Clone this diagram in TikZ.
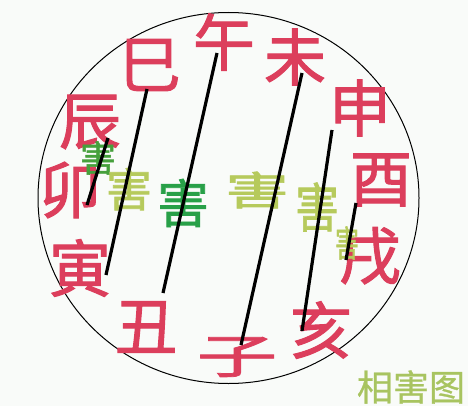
\documentclass[tikz,border=0pt]{standalone}
\usepackage{fontspec}
\newfontfamily\cjk{Noto Sans CJK SC}[FakeBold=1.6]
\newfontfamily\cjkt{Noto Sans CJK SC}[FakeBold=0.8]
\definecolor{zhired}{RGB}{220,62,92}
\definecolor{olive1}{RGB}{182,202,92}
\definecolor{green1}{RGB}{40,160,72}
\definecolor{green2}{RGB}{70,160,60}
\definecolor{titlegreen}{RGB}{168,196,96}
\definecolor{bg}{RGB}{249,251,249}
\begin{document}
\begin{tikzpicture}[x=1pt,y=-1pt,
  branch/.style={inner sep=0pt,text=zhired,font=\cjk\fontsize{62}{62}\selectfont},
  harm/.style={inner sep=0pt,font=\cjk\fontsize{#1}{#1}\selectfont},
  link/.style={line width=3.2pt,black}]
\useasboundingbox (0,0) rectangle (468,406);
\fill[bg] (0,0) rectangle (468,406);
\draw[line width=1pt] (228.5,198) ellipse [x radius=190.5, y radius=185.5];
% branches
\node[branch] (si)   at (150,65)  {巳};
\node[branch] (wu)   at (224,42)  {午};
\node[branch] (wei)  at (295,57)  {未};
\node[branch] (shen) at (360,108) {申};
\node[branch] (you)  at (381,180) {酉};
\node[branch] (xu)   at (370,256) {戌};
\node[branch] (hai)  at (321,330) {亥};
\node[branch,xscale=1.3,yscale=0.75] (zi) at (237,357) {子};
\node[branch] (chou) at (146,327) {丑};
\node[branch] (yin)  at (80,268)  {寅};
\node[branch] (mao)  at (70,190)  {卯};
\node[branch] (chen) at (90,122)  {辰};
% harm labels
\node[harm=36,text=green2] (h1) at (98,158) {害};
\node[harm=46,text=olive1] (h2) at (129,189) {害};
\node[harm=52,text=green1] (h3) at (183,203) {害};
\node[harm=64,text=olive1,yscale=0.62] (h4) at (257,190) {害};
\node[harm=44,text=olive1,yscale=1.2] (h5) at (317,207) {害};
\node[harm=24,text=olive1,yscale=1.5] (h6) at (347,243) {害};
\node[inner sep=0pt,text=titlegreen,font=\cjkt\fontsize{36}{36}\selectfont] (title) at (411,387) {相害图};
% link end points
\coordinate (a1) at (108,138); \coordinate (a2) at (87,205);
\coordinate (b1) at (147,89);  \coordinate (b2) at (106,275);
\coordinate (c1) at (217,53);  \coordinate (c2) at (163,293);
\coordinate (d1) at (302,73);  \coordinate (d2) at (241,345);
\coordinate (e1) at (332,130); \coordinate (e2) at (302,331);
\coordinate (f1) at (356,203); \coordinate (f2) at (346,260);
\draw[link] (a1) -- (a2);
\draw[link] (b1) -- (b2);
\draw[link] (c1) -- (c2);
\draw[link] (d1) -- (d2);
\draw[link] (e1) -- (e2);
\draw[link] (f1) -- (f2);
\end{tikzpicture}
\end{document}
